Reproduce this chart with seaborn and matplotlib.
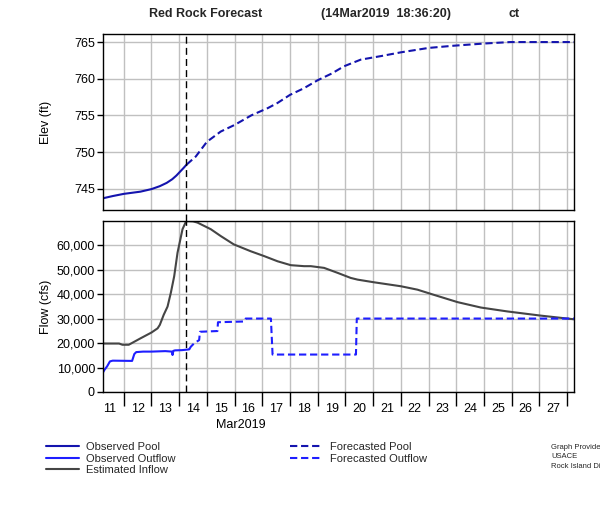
import matplotlib
matplotlib.use("Agg")
import matplotlib.pyplot as plt
import matplotlib.ticker as mticker
import seaborn as sns

# x values are day of March 2019 (fractional)
obs_pool_day = [11.25, 11.6, 12.0, 12.3, 12.6, 13.0, 13.3, 13.55, 13.75, 13.9, 14.05, 14.15, 14.27]
obs_pool_elev = [743.7, 744.0, 744.3, 744.45, 744.6, 744.95, 745.35, 745.8, 746.3, 746.8, 747.4, 747.8, 748.3]

fcst_pool_day = [14.27, 14.6, 15.0, 15.5, 16.0, 16.6, 17.2, 17.55, 18.0, 18.5, 19.0, 19.5, 19.95,
                 20.55, 21.3, 22.0, 23.0, 23.9, 25.0, 25.95, 28.25]
fcst_pool_elev = [748.3, 749.4, 751.4, 752.8, 753.7, 755.0, 756.0, 756.7, 757.8, 758.7, 759.8, 760.7, 761.7,
                  762.6, 763.1, 763.6, 764.2, 764.5, 764.8, 765.0, 765.0]

inflow_day = [11.25, 11.83, 11.95, 12.18, 12.6, 13.0, 13.22, 13.3, 13.44, 13.58, 13.7, 13.82, 13.94, 14.12,
              14.24, 14.3, 14.5, 14.66, 15.14, 15.5, 15.97, 16.58, 17.07, 17.55, 18.03, 18.51, 18.75,
              19.23, 19.71, 20.19, 20.44, 21.04, 22.0, 22.6, 23.19, 24.05, 24.89, 25.85, 27.05, 28.25]
inflow_cfs = [19800, 19800, 19300, 19300, 21900, 24300, 26000, 27400, 31500, 34900, 40600, 47300, 56900, 66500,
              69500, 69800, 69700, 69200, 66500, 63700, 60300, 57500, 55500, 53400, 51800, 51400, 51400,
              50700, 48700, 46600, 45900, 44800, 43200, 41800, 39700, 36700, 34500, 32900, 31200, 29700]

obs_out_day = [11.25, 11.3, 11.4, 11.5, 11.6, 12.3, 12.38, 12.45, 12.7, 13.0, 13.5, 13.74, 13.76, 13.79,
               13.85, 14.1, 14.36]
obs_out_cfs = [8000, 9000, 10500, 12500, 12800, 12700, 15500, 16300, 16500, 16500, 16700, 16500, 15100, 16800,
               17000, 17100, 17400]

fcst_out_day = [14.36, 14.42, 14.54, 14.72, 14.75, 15.38, 15.40, 16.34, 16.40, 17.31, 17.37, 20.38, 20.41, 28.25]
fcst_out_cfs = [17400, 18500, 19900, 21200, 24600, 24900, 28500, 28800, 30000, 30000, 15300, 15300, 30000, 30000]

forecast_start = 14.25
day_labels = [str(d) for d in range(11, 28)]

sns.set_theme(style="white")
plt.rcParams["font.family"] = ["Liberation Sans", "DejaVu Sans"]

POOL = "#1414AE"
OUTFLOW = "#1E1EFF"
INFLOW = "#454545"
GRID = "#C0C0C0"
DASH = (0, (3.5, 1.8))

fig = plt.figure(figsize=(6.0, 5.27), dpi=100)
ax_elev = fig.add_axes([103 / 600, 1 - 210 / 527, 471 / 600, 176 / 527])
ax_flow = fig.add_axes([103 / 600, 1 - 392 / 527, 471 / 600, 171 / 527])

lw = 1.5
sns.lineplot(x=obs_pool_day, y=obs_pool_elev, ax=ax_elev, color=POOL, lw=lw,
             estimator=None, sort=False, label="Observed Pool")
sns.lineplot(x=fcst_pool_day, y=fcst_pool_elev, ax=ax_elev, color=POOL, lw=lw, linestyle=DASH,
             estimator=None, sort=False, label="Forecasted Pool")
sns.lineplot(x=inflow_day, y=inflow_cfs, ax=ax_flow, color=INFLOW, lw=lw,
             estimator=None, sort=False, label="Estimated Inflow")
sns.lineplot(x=obs_out_day, y=obs_out_cfs, ax=ax_flow, color=OUTFLOW, lw=lw,
             estimator=None, sort=False, label="Observed Outflow")
sns.lineplot(x=fcst_out_day, y=fcst_out_cfs, ax=ax_flow, color=OUTFLOW, lw=lw, linestyle=DASH,
             estimator=None, sort=False, label="Forecasted Outflow")

h_elev, l_elev = ax_elev.get_legend_handles_labels()
h_flow, l_flow = ax_flow.get_legend_handles_labels()
handles = dict(zip(l_elev + l_flow, h_elev + h_flow))
ax_elev.get_legend().remove()
ax_flow.get_legend().remove()

for ax in (ax_elev, ax_flow):
    ax.set_xlim(11.25, 28.25)
    ax.xaxis.set_major_locator(mticker.FixedLocator(range(12, 29)))
    ax.grid(True, which="major", color=GRID, lw=1)
    ax.set_axisbelow(True)
    for sp in ax.spines.values():
        sp.set_color("black")
        sp.set_linewidth(1)
    ax.tick_params(axis="y", which="major", left=True, length=4.3, width=1, color="black",
                   pad=1.5, labelsize=9, labelcolor="black")

ax_elev.set_ylim(742.1, 766.1)
ax_elev.yaxis.set_major_locator(mticker.FixedLocator([745, 750, 755, 760, 765]))
ax_elev.tick_params(axis="x", which="both", bottom=False, labelbottom=False)
ax_elev.set_xlabel("")
ax_elev.set_ylabel("Elev (ft)", fontsize=9, color="black")
ax_elev.yaxis.set_label_coords(-51 / 471, 0.5)

ax_flow.set_ylim(0, 69850)
ax_flow.yaxis.set_major_locator(mticker.MultipleLocator(10000))
ax_flow.yaxis.set_major_formatter(mticker.StrMethodFormatter("{x:,.0f}"))
ax_flow.xaxis.set_major_formatter(mticker.NullFormatter())
ax_flow.xaxis.set_minor_locator(mticker.FixedLocator([d + 0.5 for d in range(11, 28)]))
ax_flow.xaxis.set_minor_formatter(mticker.FixedFormatter(day_labels))
ax_flow.tick_params(axis="x", which="major", bottom=True, length=10, width=1, color="black")
ax_flow.tick_params(axis="x", which="minor", bottom=True, length=0, pad=8, labelsize=9, labelcolor="black")
ax_flow.set_ylabel("Flow (cfs)", fontsize=9, color="black")
ax_flow.yaxis.set_label_coords(-51 / 471, 0.5)
ax_flow.set_xlabel("Mar2019", fontsize=9, color="black")
ax_flow.xaxis.set_label_coords(138 / 471, -27 / 171)

# forecast issue time marker
ax_elev.axvline(forecast_start, ymin=-11 / 176, ymax=1, color="black", lw=1, ls=(0, (5, 3)), clip_on=False)
ax_flow.axvline(forecast_start, ymin=0, ymax=1, color="black", lw=1, ls=(0, (5, 3)))

# title pieces
ty = 1 - 14 / 527
fig.text(206 / 600, ty, "Red Rock Forecast", ha="center", va="center", fontsize=9, fontweight="bold")
fig.text(386 / 600, ty, "(14Mar2019  18:36:20)", ha="center", va="center", fontsize=9, fontweight="bold")
fig.text(514 / 600, ty, "ct", ha="center", va="center", fontsize=9, fontweight="bold")

leg_kw = dict(loc="upper left", frameon=False, fontsize=8, handlelength=3.0, handletextpad=0.6,
              labelspacing=0.15, borderpad=0, borderaxespad=0)
leg1 = fig.legend(handles=[handles[k] for k in ["Observed Pool", "Observed Outflow", "Estimated Inflow"]],
                  bbox_to_anchor=(46 / 600, 1 - 442 / 527), **leg_kw)
leg2 = fig.legend(handles=[handles[k] for k in ["Forecasted Pool", "Forecasted Outflow"]],
                  bbox_to_anchor=(290 / 600, 1 - 442 / 527), **leg_kw)

fig.text(551 / 600, 1 - 444 / 527, "Graph Provided by\nUSACE\nRock Island District",
         ha="left", va="top", fontsize=5.5, linespacing=1.45)

fig.savefig("out.png", dpi=100)
